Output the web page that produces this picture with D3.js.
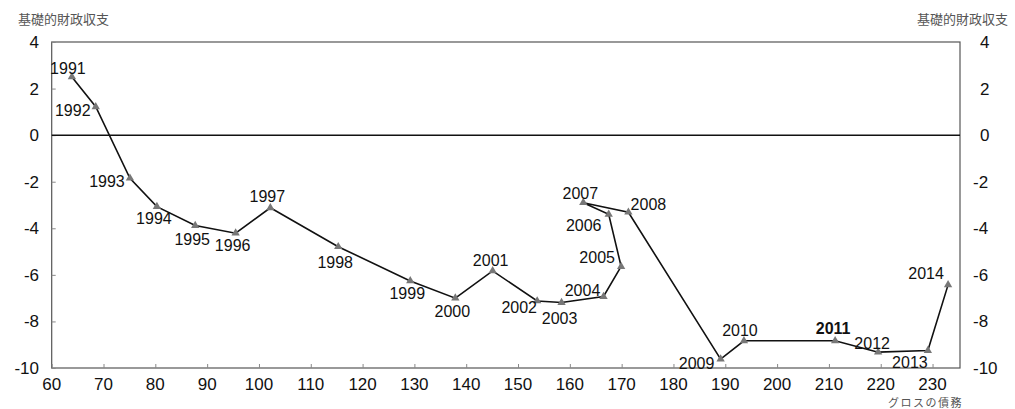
<!DOCTYPE html>
<html><head><meta charset="utf-8">
<script src="https://cdn.jsdelivr.net/npm/d3@7"></script>
<style>body{margin:0;background:#fff}svg{display:block}</style>
</head><body>
<script>
const years = [1991,1992,1993,1994,1995,1996,1997,1998,1999,2000,2001,2002,2003,2004,2005,2006,2007,2008,2009,2010,2011,2012,2013,2014];
const grossDebt = [63.9,68.5,75.1,80.3,87.7,95.5,102.2,115.3,129.2,137.9,145.1,153.7,158.4,166.5,169.9,167.5,162.6,171.3,189.1,193.6,211.2,219.5,229.1,233.0];
const primaryBalance = [2.5,1.22,-1.85,-3.07,-3.88,-4.21,-3.12,-4.79,-6.26,-7.0,-5.83,-7.12,-7.19,-6.93,-5.64,-3.40,-2.90,-3.31,-9.62,-8.83,-8.83,-9.32,-9.25,-6.43];
const xTicks = [60,70,80,90,100,110,120,130,140,150,160,170,180,190,200,210,220,230];
const yTicks = [4,2,0,-2,-4,-6,-8,-10];
const yTitle = "基礎的財政収支";
const xTitle = "グロスの債務";
// label placement offsets (layout only)
const labelDx = [-4,-23,-23,-3,-3,-3,-3,-3,-3,-3,-2,-18,-2,-21,-24,-25,-3,20,-24,-4,-2,-6,-18,-22];
const labelDy = [-9,3,3,11,14,12,-12,15,12,13,-11,6,15,-7,-9,11,-10,-8,4,-11,-13,-9,11,-12];

const W=1015,H=409;
const svg=d3.select("body").append("svg").attr("width",W).attr("height",H);
const L=51.7,R=960,T=42,B=368;
const x=d3.scaleLinear().domain([60,235.3]).range([L,R]);
const y=d3.scaleLinear().domain([-10,4]).range([B,T]);
const font="Liberation Sans, Arial, sans-serif";
const jp="'Noto Sans CJK JP', sans-serif";

// frame
svg.append("rect").attr("x",L).attr("y",T).attr("width",R-L).attr("height",B-T)
  .attr("fill","none").attr("stroke","#555").attr("stroke-width",1.2);

// ticks inward
const xa=d3.axisTop(x).tickValues(xTicks).tickSize(4).tickFormat("");
svg.append("g").attr("transform",`translate(0,${B})`).call(xa)
  .call(g=>{g.select(".domain").remove();g.selectAll("line").attr("stroke","#888");});
const ya=d3.axisRight(y).tickValues(yTicks).tickSize(4).tickFormat("");
svg.append("g").attr("transform",`translate(${L},0)`).call(ya)
  .call(g=>{g.select(".domain").remove();g.selectAll("line").attr("stroke","#888");});

// x labels
svg.append("g").selectAll("text").data(xTicks).join("text")
  .attr("x",d=>x(d)).attr("y",390).attr("text-anchor","middle")
  .attr("font-family",font).attr("font-size",17).attr("fill","#111").text(d=>d);
// left y labels
svg.append("g").selectAll("text").data(yTicks).join("text")
  .attr("x",39).attr("y",d=>y(d)+6).attr("text-anchor","end")
  .attr("font-family",font).attr("font-size",17).attr("fill","#111").text(d=>d);
// right y labels
svg.append("g").selectAll("text").data(yTicks).join("text")
  .attr("x",d=>d>=0?980:973).attr("y",d=>y(d)+6).attr("text-anchor","start")
  .attr("font-family",font).attr("font-size",17).attr("fill","#111").text(d=>d);

// zero line
svg.append("line").attr("x1",L).attr("x2",R).attr("y1",y(0)).attr("y2",y(0))
  .attr("stroke","#111").attr("stroke-width",1.5);

// titles
svg.append("text").attr("x",18).attr("y",24).attr("font-family",jp).attr("font-size",13)
  .attr("fill","#555").text(yTitle);
svg.append("text").attr("x",1008).attr("y",24).attr("text-anchor","end").attr("font-family",jp).attr("font-size",13)
  .attr("fill","#555").text(yTitle);
svg.append("text").attr("x",888).attr("y",407).attr("text-anchor","start").attr("font-family",jp).attr("font-size",11)
  .attr("letter-spacing",1.5).attr("fill","#555").text(xTitle);

const pts=years.map((yr,i)=>({yr,x:grossDebt[i],y:primaryBalance[i],dx:labelDx[i],dy:labelDy[i]}));
// line
svg.append("path").datum(pts)
  .attr("d",d3.line().x(d=>x(d.x)).y(d=>y(d.y)))
  .attr("fill","none").attr("stroke","#111").attr("stroke-width",1.6);
// markers
svg.append("g").selectAll("path").data(pts).join("path")
  .attr("transform",d=>`translate(${x(d.x)},${y(d.y)})`)
  .attr("d",d3.symbol(d3.symbolTriangle,30)).attr("fill","#777");
// year labels
svg.append("g").selectAll("text").data(pts).join("text")
  .attr("x",d=>x(d.x)+d.dx).attr("y",d=>y(d.y)+d.dy+6).attr("text-anchor","middle")
  .attr("font-family",font).attr("font-size",16).attr("fill","#111")
  .attr("font-weight",d=>d.yr===2011?"bold":"normal").text(d=>d.yr);
</script>
</body></html>
